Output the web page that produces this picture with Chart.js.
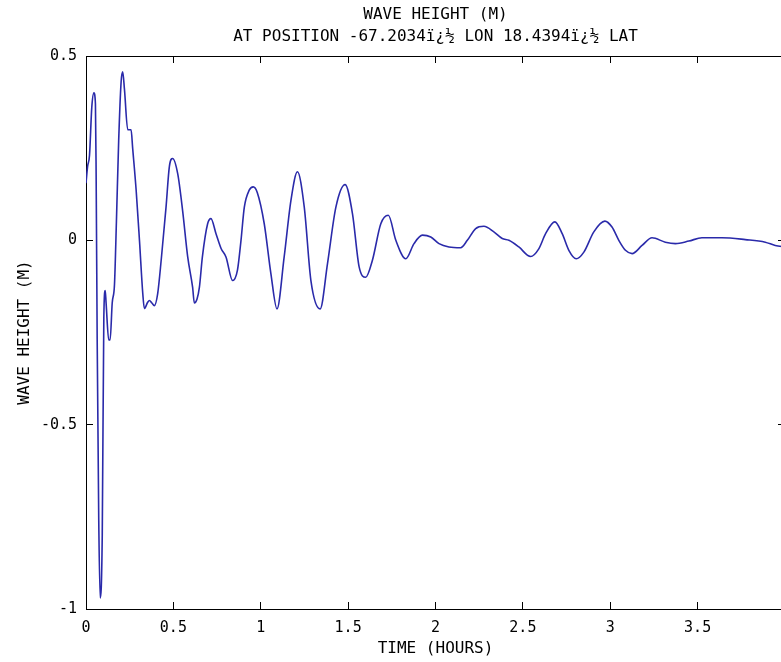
<!DOCTYPE html>
<html>
<head>
<meta charset="utf-8">
<script src="https://cdn.jsdelivr.net/npm/chart.js@4/dist/chart.umd.min.js"></script>
<style>
html,body{margin:0;padding:0;background:#fff;overflow:hidden;}
#wrap{width:800px;height:662px;}
</style>
</head>
<body>
<div id="wrap"><canvas id="c" width="800" height="662"></canvas></div>
<script>
const chartTitle = ["WAVE HEIGHT (M)", "AT POSITION -67.2034ï¿½ LON 18.4394ï¿½ LAT"];
const xAxisTitle = "TIME (HOURS)";
const yAxisTitle = "WAVE HEIGHT (M)";
const xTicks = [0, 0.5, 1, 1.5, 2, 2.5, 3, 3.5, 4];
const yTicks = [-1, -0.5, 0, 0.5];

const timeHours = [
  0.000, 0.009, 0.020, 0.033, 0.045, 0.054, 0.058, 0.064, 0.073, 0.081,
  0.093, 0.102, 0.110, 0.115, 0.130, 0.138, 0.150, 0.163, 0.174, 0.187,
  0.201, 0.210, 0.220, 0.239, 0.258, 0.267, 0.287, 0.306, 0.325, 0.334,
  0.353, 0.363, 0.377, 0.391, 0.410, 0.431, 0.458, 0.477, 0.496, 0.525,
  0.553, 0.582, 0.610, 0.620, 0.635, 0.649, 0.666, 0.696, 0.715, 0.744,
  0.773, 0.801, 0.839, 0.867, 0.887, 0.906, 0.934, 0.957, 0.980, 1.020,
  1.058, 1.093, 1.134, 1.173, 1.210, 1.249, 1.287, 1.340, 1.382, 1.430,
  1.483, 1.525, 1.563, 1.601, 1.639, 1.687, 1.730, 1.773, 1.830, 1.877,
  1.925, 1.973, 2.020, 2.077, 2.144, 2.182, 2.230, 2.277, 2.334, 2.382,
  2.420, 2.477, 2.544, 2.591, 2.630, 2.683, 2.725, 2.763, 2.805, 2.849,
  2.906, 2.969, 3.010, 3.049, 3.087, 3.125, 3.182, 3.239, 3.315, 3.373,
  3.450, 3.525, 3.639, 3.773, 3.887, 3.944, 4.000
];
const waveHeight = [
  0.155, 0.200, 0.230, 0.360, 0.400, 0.370, 0.180, -0.270, -0.760, -0.970,
  -0.800, -0.210, -0.136, -0.170, -0.270, -0.270, -0.170, -0.120, 0.050, 0.270,
  0.430, 0.457, 0.410, 0.300, 0.300, 0.250, 0.136, 0.000, -0.145, -0.185,
  -0.168, -0.163, -0.170, -0.177, -0.145, -0.050, 0.090, 0.200, 0.222, 0.180,
  0.080, -0.045, -0.127, -0.170, -0.160, -0.127, -0.045, 0.045, 0.059, 0.018,
  -0.022, -0.045, -0.109, -0.080, 0.000, 0.090, 0.136, 0.145, 0.130, 0.045,
  -0.090, -0.186, -0.045, 0.109, 0.186, 0.090, -0.109, -0.186, -0.063, 0.090,
  0.151, 0.072, -0.072, -0.100, -0.054, 0.045, 0.068, 0.000, -0.050, -0.009,
  0.014, 0.009, -0.009, -0.018, -0.020, 0.000, 0.032, 0.038, 0.023, 0.005,
  0.000, -0.018, -0.044, -0.023, 0.018, 0.050, 0.018, -0.027, -0.050, -0.032,
  0.023, 0.052, 0.036, 0.000, -0.027, -0.036, -0.014, 0.007, -0.005, -0.009,
  -0.002, 0.007, 0.007, 0.002, -0.005, -0.014, -0.018
];

const points = timeHours.map((t, i) => ({x: t, y: waveHeight[i]}));
const FONT = "'DejaVu Sans Mono', monospace";
Chart.defaults.color = '#000';
Chart.defaults.font.family = FONT;

const gridInward = {
  drawOnChartArea: false, drawTicks: true, tickLength: -7,
  color: '#000', tickColor: '#000', tickWidth: 1
};
const border = {display: true, color: '#000', width: 1};
const fmt = v => String(v);

new Chart(document.getElementById('c'), {
  type: 'line',
  data: {datasets: [{
    data: points,
    borderColor: '#2a2aaa',
    borderWidth: 1.6,
    pointRadius: 0,
    fill: false,
    cubicInterpolationMode: 'monotone'
  }]},
  options: {
    responsive: false,
    animation: false,
    layout: {padding: 0},
    plugins: {
      legend: {display: false},
      tooltip: {enabled: false},
      title: {
        display: true, text: chartTitle, fullSize: false, position: 'top',
        color: '#000', font: {family: FONT, size: 16, weight: 'normal', lineHeight: '22px'},
        padding: {top: 4, bottom: 8}
      }
    },
    scales: {
      x: {
        type: 'linear', position: 'bottom', min: 0, max: 4,
        afterBuildTicks: s => { s.ticks = xTicks.map(v => ({value: v})); },
        ticks: {font: {size: 15}, padding: 17, maxRotation: 0, autoSkip: false, color: '#000', callback: fmt},
        grid: gridInward, border: border,
        title: {display: true, text: xAxisTitle, font: {size: 16}, padding: {top: 0, bottom: 4}, color: '#000'},
        afterFit: s => { s.height = 53; s.paddingLeft = 0; s.paddingRight = 0; }
      },
      x2: {
        type: 'linear', position: 'top', min: 0, max: 4,
        afterBuildTicks: s => { s.ticks = xTicks.map(v => ({value: v})); },
        ticks: {display: false},
        grid: gridInward, border: border,
        afterFit: s => { s.height = 0; s.paddingLeft = 0; s.paddingRight = 0; }
      },
      y: {
        type: 'linear', position: 'left', min: -1, max: 0.5,
        afterBuildTicks: s => { s.ticks = yTicks.map(v => ({value: v})); },
        ticks: {font: {size: 15}, padding: 16, color: '#000', callback: fmt},
        grid: gridInward, border: border,
        title: {display: true, text: yAxisTitle, font: {size: 16}, padding: {top: 15, bottom: 0}, color: '#000'},
        afterFit: s => { s.width = 86; s.paddingTop = 0; s.paddingBottom = 0; }
      },
      y2: {
        type: 'linear', position: 'right', min: -1, max: 0.5,
        afterBuildTicks: s => { s.ticks = yTicks.map(v => ({value: v})); },
        ticks: {display: false},
        grid: gridInward, border: border,
        afterFit: s => { s.width = 15; s.paddingTop = 0; s.paddingBottom = 0; }
      }
    }
  }
});
</script>
</body>
</html>
